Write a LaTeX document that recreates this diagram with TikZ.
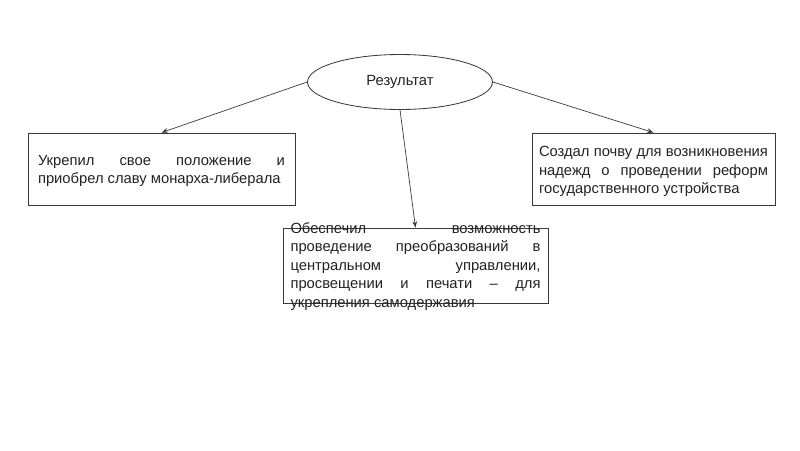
\documentclass[tikz,border=0pt]{standalone}
\usepackage{fontspec}
\setmainfont{Liberation Sans}
\usepackage{tikz}
\usetikzlibrary{arrows.meta,positioning,shapes.geometric}
\definecolor{inkd}{HTML}{3A3A3A}
\definecolor{txtc}{HTML}{222222}
\tikzset{
  oval/.style={ellipse, draw=inkd, line width=0.6pt, minimum width=4.625cm, minimum height=1.375cm,
               inner sep=0pt, font=\fontsize{10.5pt}{13pt}\selectfont, text=txtc},
  frame/.style={rectangle, draw=inkd, line width=0.6pt, inner sep=0pt},
  txt/.style={align=justify, inner sep=0pt, text=txtc, font=\fontsize{10.5pt}{13.2pt}\selectfont},
  fl/.style={-{Stealth[length=1.6mm,width=1.2mm]}, line width=0.5pt, draw=inkd},
}
\begin{document}
\begin{tikzpicture}
  \useasboundingbox (0,0) rectangle (20,-11.25);
  \node[oval] (res) at (10,-2.05) {Результат};
  \node[frame, minimum width=6.675cm, minimum height=1.8cm] (left) at (4.0375,-4.225) {};
  \node[frame, minimum width=6.075cm, minimum height=1.8cm] (right) at (16.3375,-4.225) {};
  \node[frame, minimum width=6.625cm, minimum height=1.875cm] (mid) at (10.3875,-6.6375) {};
  \node[txt, text width=6.175cm] (lefttxt) at ([yshift=-0.05cm]left) {Укрепил свое положение и\linebreak приобрел славу монарха-либерала};
  \node[txt, text width=5.725cm] (righttxt) at ([yshift=-0.07cm]right) {Создал почву для возникновения\linebreak надежд о проведении реформ\linebreak государственного устройства};
  \node[txt, text width=6.25cm] (midtxt) at ([yshift=-0.02cm]mid) {Обеспечил возможность\linebreak проведение преобразований в\linebreak центральном управлении,\linebreak просвещении и печати -- для\linebreak укрепления самодержавия};
  \draw[fl] (res.west) -- (left.north);
  \draw[fl] (res.east) -- (right.north);
  \draw[fl] (res.south) -- (mid.north);
\end{tikzpicture}
\end{document}
